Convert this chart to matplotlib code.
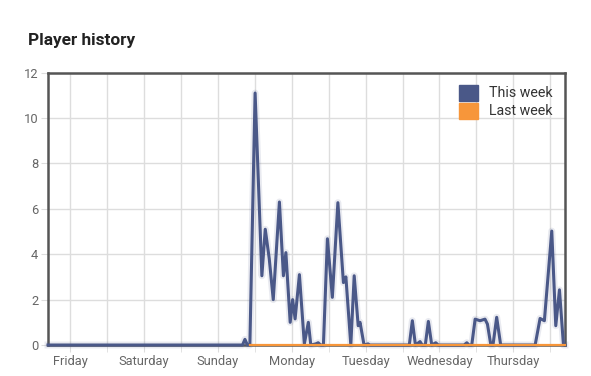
import numpy as np
import matplotlib.pyplot as plt
from matplotlib.patches import Patch

plt.rcParams['font.family'] = ['Roboto', 'DejaVu Sans']

# hours since the start of the 7 day window
this_week_hours = [0, 63.2, 64.0, 64.8, 65.6, 67.3, 69.5, 70.6, 71.9, 73.2,
                   75.2, 76.5, 77.3, 78.7, 79.5, 80.3, 81.7, 83.3, 84.6, 85.4,
                   87.0, 87.8, 88.6, 89.5, 90.8, 92.4, 94.2, 96.0, 96.8, 98.4,
                   99.5, 100.8, 101.4, 102.7, 104.0, 104.6, 117.4, 118.4, 119.4, 120.9,
                   121.6, 122.6, 123.6, 124.7, 126.0, 126.8, 135.2, 136.1, 136.8, 137.7,
                   138.8, 140.4, 142.0, 142.8, 143.9, 144.6, 145.8, 147.1, 158.3, 159.9,
                   161.3, 163.7, 165.0, 166.2, 167.5, 168]
this_week_players = [0, 0, 0.25, 0, 0, 11.1, 3.05, 5.1, 3.8, 2.0,
                     6.3, 3.05, 4.07, 1.0, 2.0, 1.15, 3.1, 0.05, 1.0, 0,
                     0.05, 0.1, 0, 0, 4.68, 2.1, 6.27, 2.75, 3.0, 0,
                     3.05, 0.85, 1.0, 0, 0.05, 0, 0, 1.07, 0, 0.15,
                     0, 0, 1.04, 0, 0.1, 0, 0, 0.1, 0, 0,
                     1.14, 1.07, 1.14, 0.92, 0, 0, 1.22, 0, 0, 1.17,
                     1.07, 5.02, 0.85, 2.43, 0, 0]
last_week_hours = [65.6, 168]
last_week_players = [0, 0]
day_labels = ['Friday', 'Saturday', 'Sunday', 'Monday', 'Tuesday', 'Wednesday', 'Thursday']

BLUE = '#4a5888'
ORANGE = '#f7963a'


def player_history():
    """ Line chart of players online, this week against last week """
    fig = plt.figure(figsize=(5.91, 3.76), dpi=100)
    ax = fig.add_axes([0.0812, 0.0824, 0.8748, 0.7245])

    # soft shadow under the line
    ax.plot(this_week_hours, this_week_players, color=BLUE, lw=5, alpha=0.12,
            clip_on=False, zorder=3, solid_joinstyle='round')
    ax.plot(this_week_hours, this_week_players, color=BLUE, lw=2.2,
            clip_on=False, zorder=4, solid_joinstyle='round')
    ax.plot(last_week_hours, last_week_players, color=ORANGE, lw=1.6,
            clip_on=False, zorder=5)

    ax.set_xlim(0, 168)
    ax.set_ylim(0, 12)
    ax.set_yticks(np.arange(0, 13, 2))
    first_day = 7.2
    ax.set_xticks([first_day + 24 * i for i in range(7)])
    ax.set_xticklabels(day_labels)
    ax.set_xticks([first_day + 12 + 24 * i for i in range(7)], minor=True)
    ax.grid(True, which='both', color='#dddddd', lw=1)
    ax.set_axisbelow(True)
    ax.tick_params(which='both', length=5, color='#dddddd', labelcolor='#666666',
                   labelsize=9.3, pad=2)
    for side in ax.spines.values():
        side.set_color('#555555')
        side.set_linewidth(1.8)
        side.set_zorder(2)

    handles = [Patch(color=BLUE, label='This week'), Patch(color=ORANGE, label='Last week')]
    ax.legend(handles=handles, loc='upper right', frameon=False, fontsize=10.2,
              handlelength=1.35, handleheight=1.35, handletextpad=0.8,
              labelspacing=0.15, borderaxespad=0.45, labelcolor='#333333')

    fig.text(28 / 591, 1 - 40 / 376, 'Player history', fontsize=12.4, fontweight='bold',
             color='#222222', va='center', ha='left')
    fig.savefig('out.png', dpi=100)


def main():
    player_history()


if __name__ == "__main__":
    main()
